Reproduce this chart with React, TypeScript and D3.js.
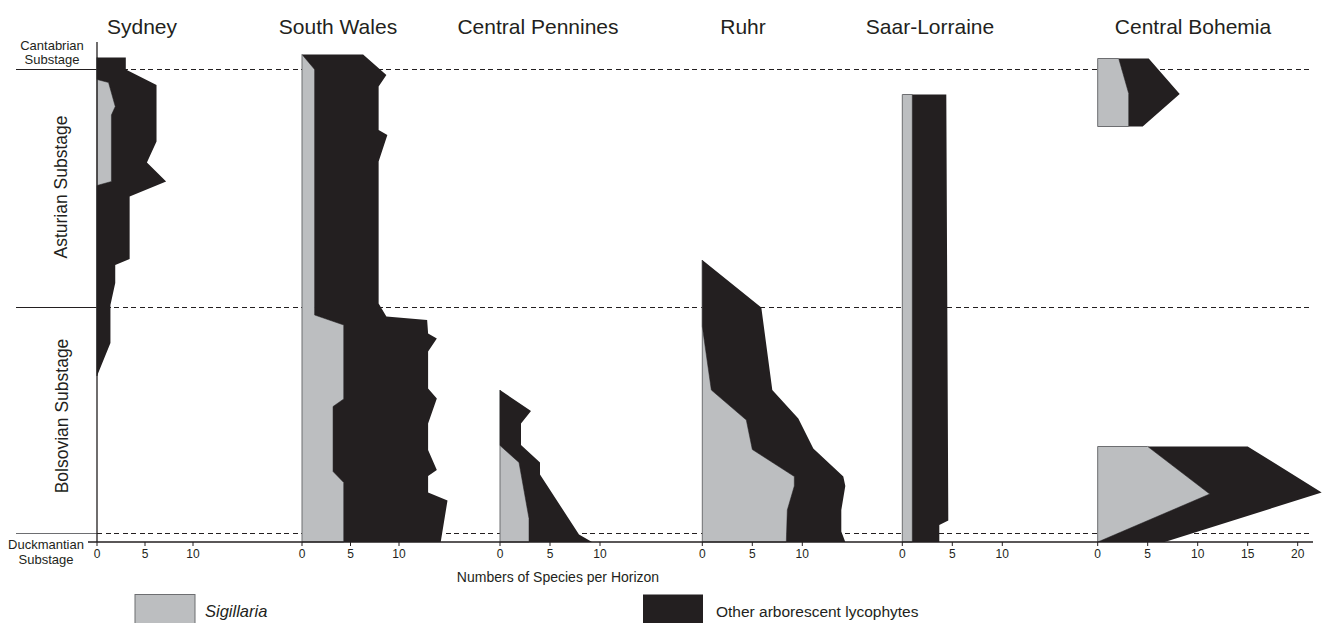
import React from "react";
import * as d3 from "d3";

// [stratigraphic level, number of species]; level 0 = base of the section, 100 = top
type P = [number, number];

const regions = ["Sydney", "South Wales", "Central Pennines", "Ruhr", "Saar-Lorraine", "Central Bohemia"];

const sydneyTotal: P[] = [
  [96.9, 3.0], [94.5, 3.0], [91.4, 6.2], [80.1, 6.2], [75.9, 5.2], [72.1, 7.2], [69.1, 3.4],
  [56.6, 3.4], [55.4, 1.9], [51.8, 1.9], [47.4, 1.4], [39.8, 1.4], [33.2, 0],
];
const sydneySigillaria: P[] = [
  [96.9, 0], [92.5, 0], [91.9, 1.2], [87.1, 1.9], [85.4, 1.5], [72.1, 1.5], [71.3, 0], [33.2, 0],
];

const southWalesTotal: P[] = [
  [97.5, 6.3], [93.4, 8.7], [91.1, 7.9], [82.4, 7.9], [81.4, 8.8], [76.1, 7.9], [47.7, 7.9],
  [45.1, 8.7], [44.4, 12.9], [41.7, 13.0], [40.7, 13.9], [38.1, 13.0], [30.7, 13.0], [28.7, 13.9],
  [23.7, 13.0], [18.4, 13.0], [14.4, 13.9], [13.2, 13.0], [9.9, 13.0], [8.3, 15.0], [0, 14.3],
];
const southWalesSigillaria: P[] = [
  [97.5, 0], [94.5, 1.3], [45.4, 1.3], [43.4, 4.3], [28.6, 4.3], [27.1, 3.2], [14.1, 3.2],
  [11.9, 4.3], [0, 4.3],
];

const penninesTotal: P[] = [
  [30.4, 0], [26.2, 3.1], [23.7, 2.1], [19.4, 2.1], [15.9, 4.0], [13.5, 4.0], [1.5, 7.9], [0, 9.2],
];
const penninesSigillaria: P[] = [
  [30.4, 0], [19.3, 0], [15.9, 1.9], [4.7, 2.9], [0, 2.9],
];

const ruhrTotal: P[] = [
  [56.4, 0], [46.9, 5.9], [30.4, 7.0], [24.7, 9.6], [18.7, 11.1], [13.1, 14.1], [11.2, 14.3],
  [6.4, 13.9], [2.1, 13.9], [0, 14.3],
];
const ruhrSigillaria: P[] = [
  [56.4, 0], [43.1, 0], [30.4, 0.9], [24.4, 4.4], [18.5, 5.0], [13.1, 9.2], [11.2, 9.2],
  [6.4, 8.5], [0, 8.4],
];

const saarTotal: P[] = [[89.5, 4.4], [4.3, 4.6], [3.4, 3.7], [0, 3.7]];
const saarSigillaria: P[] = [[89.5, 1.0], [0, 1.0]];

const bohemiaUpperTotal: P[] = [[96.7, 5.1], [89.6, 8.2], [83.1, 4.5]];
const bohemiaUpperSigillaria: P[] = [[96.7, 2.1], [89.7, 3.1], [83.1, 3.1]];
const bohemiaLowerTotal: P[] = [[19.1, 15.0], [9.9, 22.4], [0, 6.7]];
const bohemiaLowerSigillaria: P[] = [[19.1, 5.0], [9.6, 11.2], [0, 0]];

const regionTicks: number[][] = [
  [0, 5, 10], [0, 5, 10], [0, 5, 10], [0, 5, 10], [0, 5, 10], [0, 5, 10, 15, 20],
];

// Substage boundaries (level) and labels
const boundaryLevels = [94.6, 47, 1.8];
const substageNames = ["Cantabrian Substage", "Asturian Substage", "Bolsovian Substage", "Duckmantian Substage"];

const legendLabels = ["Sigillaria", "Other arborescent lycophytes"];
const xAxisTitle = "Numbers of Species per Horizon";

type Segment = { total: P[]; sig: P[] };
const regionSegments: Segment[][] = [
  [{ total: sydneyTotal, sig: sydneySigillaria }],
  [{ total: southWalesTotal, sig: southWalesSigillaria }],
  [{ total: penninesTotal, sig: penninesSigillaria }],
  [{ total: ruhrTotal, sig: ruhrSigillaria }],
  [{ total: saarTotal, sig: saarSigillaria }],
  [
    { total: bohemiaUpperTotal, sig: bohemiaUpperSigillaria },
    { total: bohemiaLowerTotal, sig: bohemiaLowerSigillaria },
  ],
];

// Layout
const W = 1322;
const H = 623;
const FONT = "'Liberation Sans', Arial, Helvetica, sans-serif";
const INK = "#231f20";
const GREY = "#bcbec0";
const GREY_EDGE = "#6d6e71";
const axisY = 542;
const lineLeft = 16;
const lineRight = 1313;
const panelLayout = [
  { x0: 97, unit: 9.6, titleX: 142 },
  { x0: 302, unit: 9.7, titleX: 338 },
  { x0: 500, unit: 10, titleX: 538 },
  { x0: 702.3, unit: 10, titleX: 743 },
  { x0: 902.3, unit: 10, titleX: 930 },
  { x0: 1097.7, unit: 10, titleX: 1193 },
];

const y = d3.scaleLinear().domain([0, 100]).range([axisY, 42]);

export default function App() {
  const panels = regions.map((name, i) => {
    const L = panelLayout[i];
    const ticks = regionTicks[i];
    const maxT = ticks[ticks.length - 1];
    const x = d3.scaleLinear().domain([0, maxT]).range([L.x0, L.x0 + L.unit * maxT]);
    const line = d3
      .line<P>()
      .x((d) => x(d[1]))
      .y((d) => y(d[0]));
    const shapes = regionSegments[i].map((seg) => {
      const black = [...seg.total, ...seg.sig.slice().reverse()];
      const first = seg.sig[0];
      const last = seg.sig[seg.sig.length - 1];
      const grey: P[] = [[first[0], 0], ...seg.sig, [last[0], 0]];
      return { black: line(black) + "Z", grey: line(grey) + "Z" };
    });
    return { name, L, x, ticks, shapes };
  });

  return (
    <svg
      width={W}
      height={H}
      viewBox={`0 0 ${W} ${H}`}
      style={{ position: "fixed", left: 0, top: 0, background: "#fff" }}
      fontFamily={FONT}
    >
      <rect width={W} height={H} fill="#fff" />

      {/* substage boundaries */}
      {boundaryLevels.map((lv, i) => (
        <g key={i} shapeRendering="crispEdges">
          <line x1={lineLeft} x2={97} y1={y(lv)} y2={y(lv)} stroke={i === 2 ? "#6d6e71" : INK} strokeWidth={1} />
          <line
            x1={97}
            x2={lineRight}
            y1={y(lv)}
            y2={y(lv)}
            stroke={INK}
            strokeWidth={1}
            strokeDasharray="5,3.5"
          />
        </g>
      ))}

      {/* species profiles */}
      {panels.map((p) => (
        <g key={p.name}>
          {p.shapes.map((s, k) => (
            <g key={k}>
              <path d={s.grey} fill={GREY} stroke={GREY_EDGE} strokeWidth={1} strokeLinejoin="round" />
              <path d={s.black} fill={INK} />
            </g>
          ))}
        </g>
      ))}

      {/* vertical stratigraphic axis */}
      <line x1={97} x2={97} y1={y(100)} y2={axisY} stroke={INK} strokeWidth={1.3} />

      {/* x axis */}
      <line x1={88} x2={lineRight} y1={axisY} y2={axisY} stroke={INK} strokeWidth={1.3} />
      {panels.map((p) =>
        p.ticks.map((t) => (
          <g key={p.name + t}>
            <line x1={p.x(t)} x2={p.x(t)} y1={axisY} y2={axisY + 4} stroke={INK} strokeWidth={1} />
            <text x={p.x(t)} y={axisY + 16} fontSize={12} textAnchor="middle" fill={INK}>
              {t}
            </text>
          </g>
        ))
      )}

      {/* region titles */}
      {panels.map((p) => (
        <text key={"t" + p.name} x={p.L.titleX} y={34} fontSize={21} textAnchor="middle" fill={INK}>
          {p.name}
        </text>
      ))}

      {/* substage labels */}
      <text x={52} y={50} fontSize={13} textAnchor="middle" fill={INK}>
        {substageNames[0].split(" ")[0]}
      </text>
      <text x={52} y={64} fontSize={13} textAnchor="middle" fill={INK}>
        {substageNames[0].split(" ")[1]}
      </text>
      <text
        transform={`translate(67,${(y(boundaryLevels[0]) + y(boundaryLevels[1])) / 2 - 1}) rotate(-90)`}
        fontSize={17.5}
        textAnchor="middle"
        fill={INK}
      >
        {substageNames[1]}
      </text>
      <text
        transform={`translate(68,${(y(boundaryLevels[1]) + y(boundaryLevels[2])) / 2 - 4}) rotate(-90)`}
        fontSize={17.5}
        textAnchor="middle"
        fill={INK}
      >
        {substageNames[2]}
      </text>
      <text x={46} y={549} fontSize={13} textAnchor="middle" fill={INK}>
        {substageNames[3].split(" ")[0]}
      </text>
      <text x={46} y={564} fontSize={13} textAnchor="middle" fill={INK}>
        {substageNames[3].split(" ")[1]}
      </text>

      {/* x axis title */}
      <text x={558} y={582} fontSize={14} textAnchor="middle" fill={INK}>
        {xAxisTitle}
      </text>

      {/* legend */}
      <rect x={135} y={594.5} width={60} height={32} fill={GREY} stroke={GREY_EDGE} strokeWidth={1} />
      <text x={205} y={617} fontSize={16.5} fontStyle="italic" fill={INK}>
        {legendLabels[0]}
      </text>
      <rect x={643} y={594.5} width={60} height={32} fill={INK} />
      <text x={716} y={617} fontSize={15.5} fill={INK}>
        {legendLabels[1]}
      </text>
    </svg>
  );
}
